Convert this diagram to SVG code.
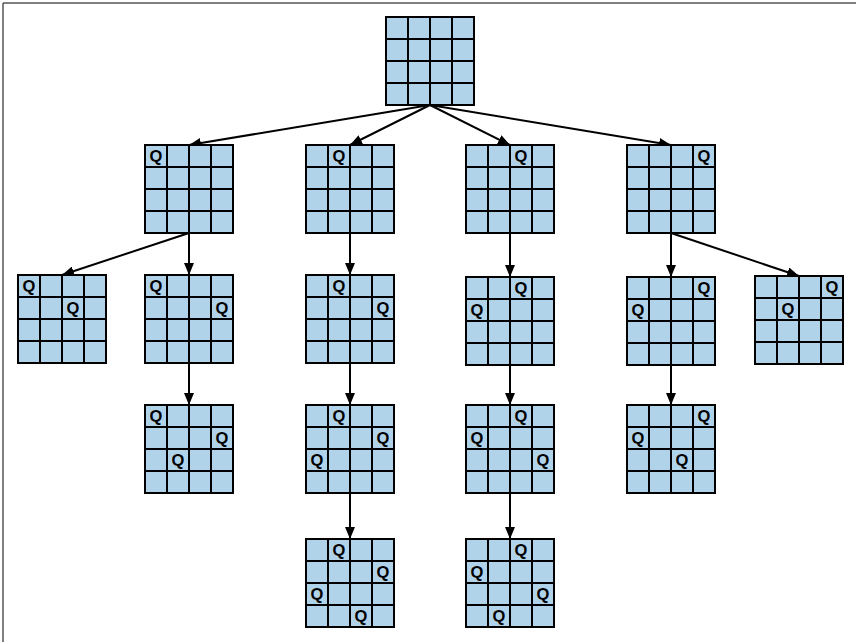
<svg xmlns="http://www.w3.org/2000/svg" xmlns:xlink="http://www.w3.org/1999/xlink" width="856" height="642" viewBox="0 0 856 642">
<style>
.q{font-family:"Liberation Sans",Arial,sans-serif;font-weight:bold;font-size:16.5px;fill:#000;text-anchor:middle;dominant-baseline:central}
.e{stroke:#000;stroke-width:2;fill:none;marker-end:url(#ah)}
.frame{stroke:#555;stroke-width:1.5}
</style>
<defs>
<marker id="ah" viewBox="0 0 12 10" refX="12" refY="5" markerWidth="12" markerHeight="10" markerUnits="userSpaceOnUse" orient="auto">
<path d="M0,0 L12,5 L0,10 z" fill="#000"/>
</marker>
<g id="board">
<rect x="0" y="0" width="88" height="88" fill="#b1d3ea" stroke="#000" stroke-width="2"/>
<path d="M22,0V88M44,0V88M66,0V88M0,22H88M0,44H88M0,66H88" stroke="#000" stroke-width="2" fill="none"/>
</g>
</defs>
<rect width="856" height="642" fill="#fff"/>
<line class="frame" x1="3" y1="3" x2="856" y2="3"/>
<line class="frame" x1="3" y1="3" x2="3" y2="642"/>
<g id="connectors">
<path class="e" d="M430,105 L189,145"/>
<path class="e" d="M430,105 L350,145"/>
<path class="e" d="M430,105 L510,145"/>
<path class="e" d="M430,105 L671,145"/>
<path class="e" d="M189,233 L62,275"/>
<path class="e" d="M189,233 L189,275"/>
<path class="e" d="M350,233 L350,275"/>
<path class="e" d="M510,233 L510,277"/>
<path class="e" d="M671,233 L671,277"/>
<path class="e" d="M671,233 L799,276"/>
<path class="e" d="M189,363 L189,405"/>
<path class="e" d="M350,363 L350,405"/>
<path class="e" d="M510,365 L510,405"/>
<path class="e" d="M671,365 L671,405"/>
<path class="e" d="M350,493 L350,539"/>
<path class="e" d="M510,493 L510,539"/>
</g>
<g id="root" transform="translate(386,17)"><use xlink:href="#board"/></g>
<g id="n1" transform="translate(145,145)"><use xlink:href="#board"/><text class="q" x="11" y="11">Q</text></g>
<g id="n2" transform="translate(306,145)"><use xlink:href="#board"/><text class="q" x="33" y="11">Q</text></g>
<g id="n3" transform="translate(466,145)"><use xlink:href="#board"/><text class="q" x="55" y="11">Q</text></g>
<g id="n4" transform="translate(627,145)"><use xlink:href="#board"/><text class="q" x="77" y="11">Q</text></g>
<g id="nA" transform="translate(18,275)"><use xlink:href="#board"/><text class="q" x="11" y="11">Q</text><text class="q" x="55" y="33">Q</text></g>
<g id="nB" transform="translate(145,275)"><use xlink:href="#board"/><text class="q" x="11" y="11">Q</text><text class="q" x="77" y="33">Q</text></g>
<g id="nC" transform="translate(306,275)"><use xlink:href="#board"/><text class="q" x="33" y="11">Q</text><text class="q" x="77" y="33">Q</text></g>
<g id="nD" transform="translate(466,277)"><use xlink:href="#board"/><text class="q" x="55" y="11">Q</text><text class="q" x="11" y="33">Q</text></g>
<g id="nE" transform="translate(627,277)"><use xlink:href="#board"/><text class="q" x="77" y="11">Q</text><text class="q" x="11" y="33">Q</text></g>
<g id="nF" transform="translate(755,276)"><use xlink:href="#board"/><text class="q" x="77" y="11">Q</text><text class="q" x="33" y="33">Q</text></g>
<g id="nG" transform="translate(145,405)"><use xlink:href="#board"/><text class="q" x="11" y="11">Q</text><text class="q" x="77" y="33">Q</text><text class="q" x="33" y="55">Q</text></g>
<g id="nH" transform="translate(306,405)"><use xlink:href="#board"/><text class="q" x="33" y="11">Q</text><text class="q" x="77" y="33">Q</text><text class="q" x="11" y="55">Q</text></g>
<g id="nI" transform="translate(466,405)"><use xlink:href="#board"/><text class="q" x="55" y="11">Q</text><text class="q" x="11" y="33">Q</text><text class="q" x="77" y="55">Q</text></g>
<g id="nJ" transform="translate(627,405)"><use xlink:href="#board"/><text class="q" x="77" y="11">Q</text><text class="q" x="11" y="33">Q</text><text class="q" x="55" y="55">Q</text></g>
<g id="nK" transform="translate(306,539)"><use xlink:href="#board"/><text class="q" x="33" y="11">Q</text><text class="q" x="77" y="33">Q</text><text class="q" x="11" y="55">Q</text><text class="q" x="55" y="77">Q</text></g>
<g id="nL" transform="translate(466,539)"><use xlink:href="#board"/><text class="q" x="55" y="11">Q</text><text class="q" x="11" y="33">Q</text><text class="q" x="77" y="55">Q</text><text class="q" x="33" y="77">Q</text></g>
</svg>
